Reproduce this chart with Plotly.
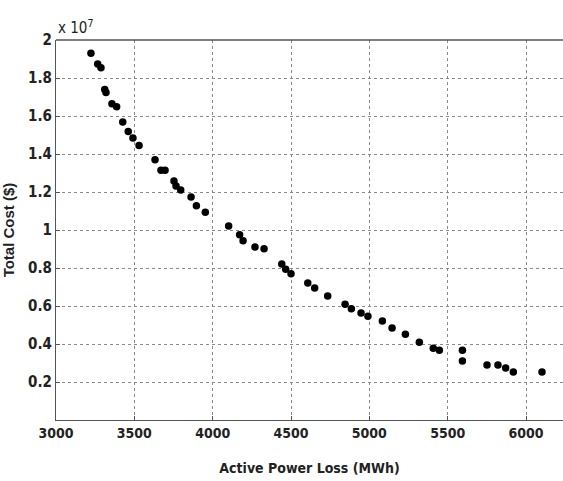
import plotly.graph_objects as go

loss = [3223, 3266, 3287, 3311, 3319, 3357, 3387, 3426, 3461, 3491, 3530, 3632,
        3670, 3696, 3753, 3766, 3796, 3862, 3896, 3953, 4102, 4172, 4194, 4270, 4328,
        4441, 4466, 4500, 4607, 4651, 4734, 4845, 4885, 4947, 4991, 5083, 5145, 5230,
        5319, 5408, 5447, 5594, 5594, 5751, 5821, 5870, 5919, 6102]
cost = [1.930, 1.874, 1.854, 1.740, 1.724, 1.665, 1.649, 1.568, 1.519, 1.484, 1.445, 1.370,
        1.314, 1.314, 1.258, 1.232, 1.211, 1.174, 1.128, 1.093, 1.021, 0.975, 0.944, 0.911, 0.901,
        0.821, 0.793, 0.770, 0.721, 0.695, 0.653, 0.609, 0.586, 0.563, 0.546, 0.521, 0.484, 0.451,
        0.409, 0.377, 0.367, 0.367, 0.311, 0.289, 0.289, 0.274, 0.253, 0.253]

xticks = [3000, 3500, 4000, 4500, 5000, 5500, 6000]
yticks = [0.2, 0.4, 0.6, 0.8, 1.0, 1.2, 1.4, 1.6, 1.8, 2.0]
yticklabels = ["0.2", "0.4", "0.6", "0.8", "1", "1.2", "1.4", "1.6", "1.8", "2"]

FONT = "DejaVu Sans Condensed, Liberation Sans Narrow, Arial Narrow, Liberation Sans"

fig = go.Figure()
fig.add_trace(go.Scatter(
    x=loss, y=cost, mode="markers",
    marker=dict(color="black", size=7.5, symbol="circle"),
    showlegend=False,
))

fig.update_layout(
    width=563, height=481,
    margin=dict(l=56, r=0, t=40, b=61),
    paper_bgcolor="white", plot_bgcolor="white",
    font=dict(family=FONT, color="#222", size=13),
    xaxis=dict(
        range=[3000, 6236], tickvals=xticks, ticktext=[str(v) for v in xticks],
        showgrid=True, gridcolor="#8a8a8a", griddash="dot", gridwidth=1,
        showline=True, linecolor="#555", linewidth=1, mirror=False,
        ticks="inside", ticklen=4, tickcolor="#555",
        tickfont=dict(family=FONT, size=14, color="#222", weight="bold"),
        zeroline=False,
        title=dict(text="Active Power Loss (MWh)", font=dict(family=FONT, size=14, color="#222", weight="bold"), standoff=23),
    ),
    yaxis=dict(
        range=[0, 2], tickvals=yticks, ticktext=yticklabels,
        showgrid=True, gridcolor="#8a8a8a", griddash="dot", gridwidth=1,
        showline=True, linecolor="#555", linewidth=1,
        ticks="inside", ticklen=4, tickcolor="#555",
        tickfont=dict(family=FONT, size=15, color="#222", weight="bold"),
        zeroline=False,
        title=dict(text="Total Cost ($)", font=dict(family="Liberation Sans, Arial", size=15, color="#222", weight="bold"), standoff=12),
    ),
    shapes=[dict(type="line", xref="paper", yref="paper", x0=0, x1=1, y0=1, y1=1,
                 line=dict(color="#555", width=1.5))],
    annotations=[dict(text="x 10<sup>7</sup>", xref="paper", yref="paper", x=0.0, y=1.0,
                      xanchor="left", yanchor="bottom", showarrow=False, yshift=1,
                      font=dict(family=FONT, size=15, color="#222"))],
)

fig.write_html("out.html")
